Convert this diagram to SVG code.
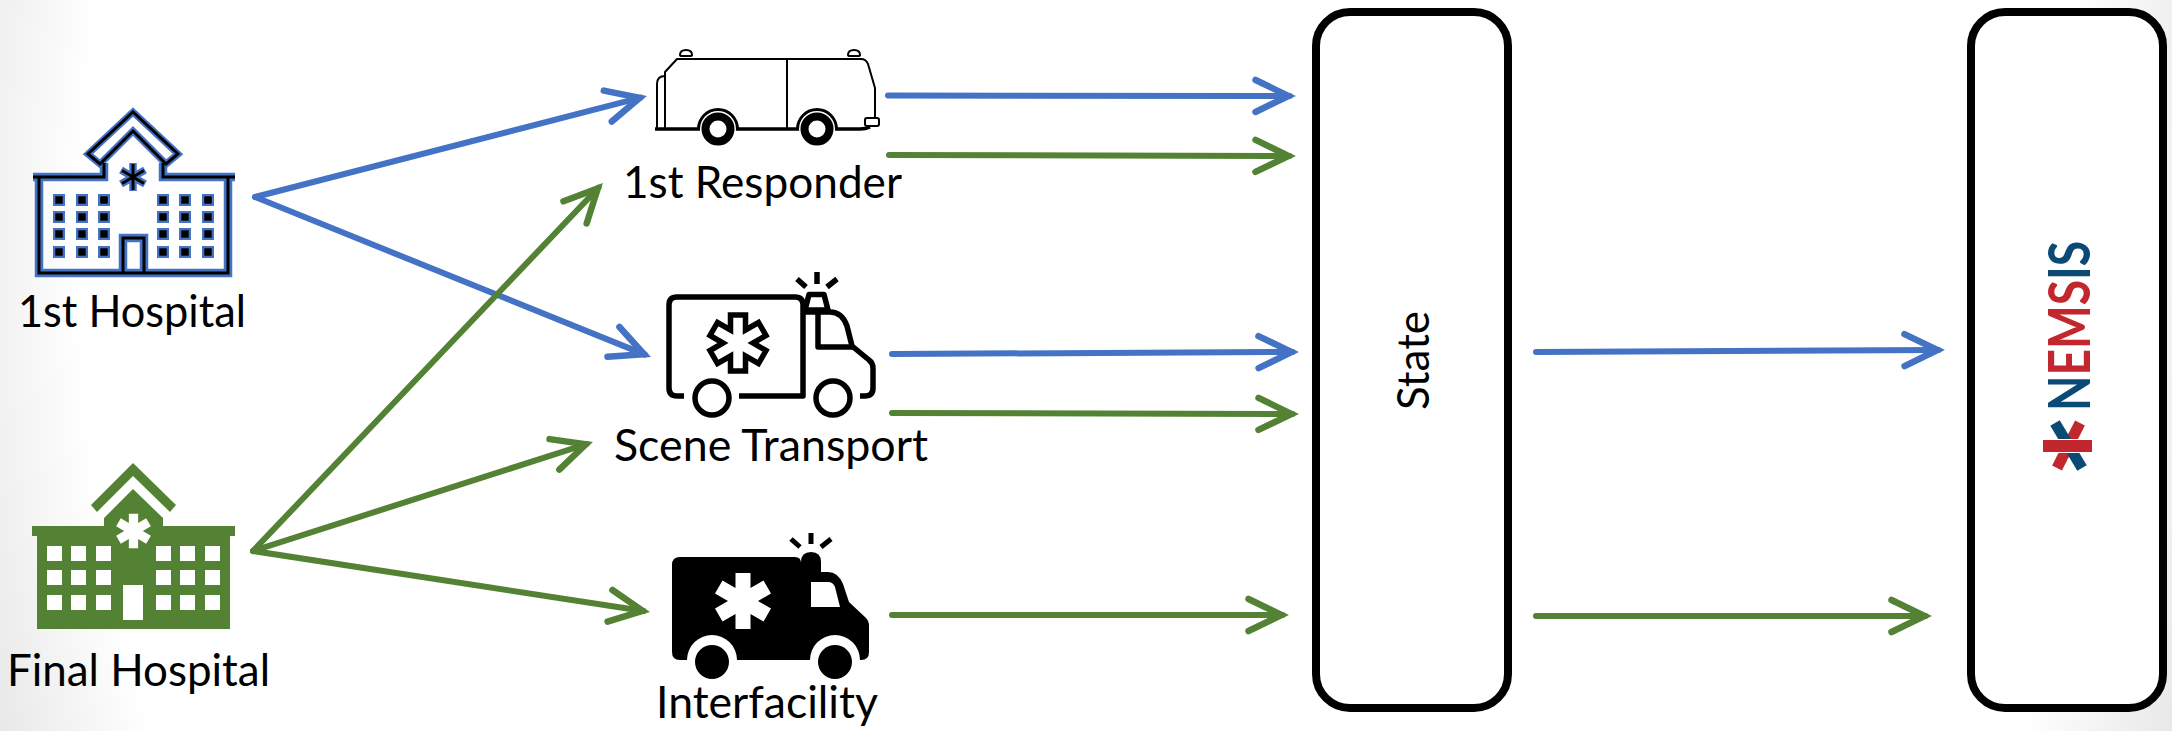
<svg xmlns="http://www.w3.org/2000/svg" xmlns:xlink="http://www.w3.org/1999/xlink" width="2172" height="731" viewBox="0 0 2172 731">
<style>
.lbl{font-family:Lato,"Open Sans","Liberation Sans",sans-serif;font-size:44px;fill:#000}
.box{fill:#fff;stroke:#000;stroke-width:8}
.conn{fill:none;stroke-width:6;stroke-linecap:round}
.b{stroke:#4472C4}.g{stroke:#548235}
.hb{stroke:#4472C4;fill:none;stroke-width:8.500;stroke-linejoin:miter}
.hk{stroke:#000;fill:none;stroke-width:3;stroke-linejoin:miter}
.thin{fill:none;stroke:#000;stroke-width:2;stroke-linejoin:round}
.bold{fill:none;stroke:#000;stroke-width:5.500;stroke-linejoin:round;stroke-linecap:butt}
</style>
<defs>
<radialGradient id="bg" gradientUnits="userSpaceOnUse" cx="0" cy="0" r="1.2" gradientTransform="translate(1086 250) scale(1010 1300)">
<stop offset="0.83" stop-color="#fff"/><stop offset="1" stop-color="#dedede"/>
</radialGradient>
<marker id="ab" markerUnits="userSpaceOnUse" markerWidth="60" markerHeight="60" viewBox="-50 -30 60 60" refX="0" refY="0" orient="auto"><path d="M-34,-16 L-1,0 L-34,16" fill="none" stroke="#4472C4" stroke-width="6.500" stroke-linecap="round" stroke-linejoin="miter" stroke-miterlimit="6"/></marker>
<marker id="ag" markerUnits="userSpaceOnUse" markerWidth="60" markerHeight="60" viewBox="-50 -30 60 60" refX="0" refY="0" orient="auto"><path d="M-34,-16 L-1,0 L-34,16" fill="none" stroke="#548235" stroke-width="6.500" stroke-linecap="round" stroke-linejoin="miter" stroke-miterlimit="6"/></marker>
<path id="star" d="M-7.500-28H7.500V-13L20.500-20.500L28-7.500L15 0L28 7.500L20.500 20.500L7.500 13V28H-7.500V13L-20.500 20.500L-28 7.500L-15 0L-28-7.500L-20.500-20.500L-7.500-13Z"/>
<rect id="wb" x="-6" y="-6" width="12" height="12" fill="#4472C4"/>
<rect id="wk" x="-3.700" y="-3.700" width="7.400" height="7.400" fill="#000"/>
<rect id="wg" width="15" height="15" fill="#fff"/>
</defs>
<rect id="background" width="2172" height="731" fill="url(#bg)"/>

<g id="connectors">
<line class="conn b" x1="255" y1="197" x2="640.700" y2="97.600" marker-end="url(#ab)"/>
<line class="conn b" x1="255" y1="197" x2="645" y2="354.600" marker-end="url(#ab)"/>
<line class="conn g" x1="253" y1="551" x2="598.500" y2="187.700" marker-end="url(#ag)"/>
<line class="conn g" x1="253" y1="551" x2="586.800" y2="444" marker-end="url(#ag)"/>
<line class="conn g" x1="253" y1="551" x2="643.600" y2="611" marker-end="url(#ag)"/>
<line class="conn b" x1="888" y1="95.500" x2="1289.500" y2="96" marker-end="url(#ab)"/>
<line class="conn g" x1="889" y1="155" x2="1289.500" y2="156" marker-end="url(#ag)"/>
<line class="conn b" x1="892" y1="354" x2="1292.500" y2="352" marker-end="url(#ab)"/>
<line class="conn g" x1="892" y1="413" x2="1292.500" y2="414" marker-end="url(#ag)"/>
<line class="conn g" x1="892" y1="615" x2="1282.500" y2="615" marker-end="url(#ag)"/>
<line class="conn b" x1="1536" y1="352" x2="1938.500" y2="350" marker-end="url(#ab)"/>
<line class="conn g" x1="1536" y1="616" x2="1925.500" y2="616" marker-end="url(#ag)"/>
</g>

<g id="first-hospital">
<g class="hb">
<path d="M133 112L178 154L166 164L133 131L100 164L88 154Z" stroke-width="7"/>
<path d="M104 163V177H33M235 177H163V163M39 177V273H228V177M123 273V238H144V273"/>
<path d="M133 163V191M121 170L145 184M145 170L121 184" stroke-width="7.500"/>
</g>
<g class="hk">
<path d="M133 112L178 154L166 164L133 131L100 164L88 154Z"/>
<path d="M104 163V177H33M235 177H163V163M39 177V273H228V177M123 273V238H144V273"/>
<path d="M133 164V190M122 170.500L144 183.500M144 170.500L122 183.500"/>
</g>
<g>
<use xlink:href="#wb" x="59" y="200"/><use xlink:href="#wb" x="82" y="200"/><use xlink:href="#wb" x="104" y="200"/><use xlink:href="#wb" x="163" y="200"/><use xlink:href="#wb" x="185" y="200"/><use xlink:href="#wb" x="208" y="200"/>
<use xlink:href="#wb" x="59" y="217"/><use xlink:href="#wb" x="82" y="217"/><use xlink:href="#wb" x="104" y="217"/><use xlink:href="#wb" x="163" y="217"/><use xlink:href="#wb" x="185" y="217"/><use xlink:href="#wb" x="208" y="217"/>
<use xlink:href="#wb" x="59" y="234"/><use xlink:href="#wb" x="82" y="234"/><use xlink:href="#wb" x="104" y="234"/><use xlink:href="#wb" x="163" y="234"/><use xlink:href="#wb" x="185" y="234"/><use xlink:href="#wb" x="208" y="234"/>
<use xlink:href="#wb" x="59" y="252"/><use xlink:href="#wb" x="82" y="252"/><use xlink:href="#wb" x="104" y="252"/><use xlink:href="#wb" x="163" y="252"/><use xlink:href="#wb" x="185" y="252"/><use xlink:href="#wb" x="208" y="252"/>
<use xlink:href="#wk" x="59" y="200"/><use xlink:href="#wk" x="82" y="200"/><use xlink:href="#wk" x="104" y="200"/><use xlink:href="#wk" x="163" y="200"/><use xlink:href="#wk" x="185" y="200"/><use xlink:href="#wk" x="208" y="200"/>
<use xlink:href="#wk" x="59" y="217"/><use xlink:href="#wk" x="82" y="217"/><use xlink:href="#wk" x="104" y="217"/><use xlink:href="#wk" x="163" y="217"/><use xlink:href="#wk" x="185" y="217"/><use xlink:href="#wk" x="208" y="217"/>
<use xlink:href="#wk" x="59" y="234"/><use xlink:href="#wk" x="82" y="234"/><use xlink:href="#wk" x="104" y="234"/><use xlink:href="#wk" x="163" y="234"/><use xlink:href="#wk" x="185" y="234"/><use xlink:href="#wk" x="208" y="234"/>
<use xlink:href="#wk" x="59" y="252"/><use xlink:href="#wk" x="82" y="252"/><use xlink:href="#wk" x="104" y="252"/><use xlink:href="#wk" x="163" y="252"/><use xlink:href="#wk" x="185" y="252"/><use xlink:href="#wk" x="208" y="252"/>
</g>
<text class="lbl" x="18" y="327" textLength="228" lengthAdjust="spacingAndGlyphs">1st Hospital</text>
</g>

<g id="final-hospital">
<path fill="#548235" d="M133 463L176 505L170 512L133 476L97 512L91 505Z"/>
<path fill="#548235" d="M133 489L163 518V526H235V536H230V629H37V536H32V526H104V518Z"/>
<g>
<use xlink:href="#wg" x="47" y="546"/><use xlink:href="#wg" x="71" y="546"/><use xlink:href="#wg" x="96" y="546"/><use xlink:href="#wg" x="156" y="546"/><use xlink:href="#wg" x="180" y="546"/><use xlink:href="#wg" x="205" y="546"/>
<use xlink:href="#wg" x="47" y="570"/><use xlink:href="#wg" x="71" y="570"/><use xlink:href="#wg" x="96" y="570"/><use xlink:href="#wg" x="156" y="570"/><use xlink:href="#wg" x="180" y="570"/><use xlink:href="#wg" x="205" y="570"/>
<use xlink:href="#wg" x="47" y="595"/><use xlink:href="#wg" x="71" y="595"/><use xlink:href="#wg" x="96" y="595"/><use xlink:href="#wg" x="156" y="595"/><use xlink:href="#wg" x="180" y="595"/><use xlink:href="#wg" x="205" y="595"/>
</g>
<rect x="123" y="585" width="20" height="35" fill="#fff"/>
<use xlink:href="#star" transform="translate(133.500 531) scale(.62)" fill="#fff"/>
<text class="lbl" x="7" y="686" textLength="263" lengthAdjust="spacingAndGlyphs">Final Hospital</text>
</g>

<g id="first-responder">
<path class="thin" d="M665 129V72L677 59H787M787 59H861Q866 59 868 64L875 88V118M787 59V129M657 129V84Q657 76 665 76"/>
<path class="thin" d="M680 55Q680 50 686 50Q692 50 692 55Q692 56 690 56H682Q680 56 680 55ZM848 55Q848 50 854 50Q860 50 860 55Q860 56 858 56H850Q848 56 848 55Z" fill="#fff"/>
<rect class="thin" x="865" y="118" width="14" height="8" rx="2" fill="#fff"/>
<path fill="none" stroke="#000" stroke-width="3.500" d="M655 129H700M735 129H800M835 129H860Q866 129 870 127"/>
<path d="M697 129A21 21 0 0 1 739 129ZM796 129A21 21 0 0 1 838 129Z" fill="#000"/>
<circle cx="718" cy="129" r="18" fill="#fff"/><circle cx="817" cy="129" r="18" fill="#fff"/>
<circle cx="718" cy="129" r="12.500" fill="#fff" stroke="#000" stroke-width="8"/>
<circle cx="817" cy="129" r="12.500" fill="#fff" stroke="#000" stroke-width="8"/>
<text class="lbl" x="623" y="198" textLength="279" lengthAdjust="spacingAndGlyphs">1st Responder</text>
</g>

<g id="scene-transport">
<path class="bold" d="M684 396H677Q669 396 669 388V305Q669 297 677 297H795Q803 297 803 305V396H739"/>
<circle class="bold" cx="712" cy="398" r="17"/>
<circle class="bold" cx="833" cy="398" r="17"/>
<path class="bold" d="M805 312H830Q842 312 847 326L852 346L869 360Q873 363 873 368V388Q873 396 865 396H860"/>
<path class="bold" d="M818 313V347H853"/>
<path class="bold" d="M809 294.500H824L828 310H805Z"/>
<path class="bold" d="M817 272V284M797 279L806 287M837 279L827 287"/>
<use xlink:href="#star" transform="translate(738 343)" fill="none" stroke="#000" stroke-width="5.500"/>
<text class="lbl" x="614" y="461" textLength="314" lengthAdjust="spacingAndGlyphs">Scene Transport</text>
</g>

<g id="interfacility">
<path fill="#000" d="M680 557H795Q801 557 801 563V562Q801 552 811 552Q821 552 821 562V572H828Q838 572 843 584L849 602L866 618Q869 621 869 626V652Q869 660 861 660H860A25 25 0 0 0 810 660H737A25 25 0 0 0 687 660H680Q672 660 672 652V565Q672 557 680 557Z"/>
<circle cx="712" cy="662" r="17" fill="#000"/><circle cx="835" cy="662" r="17" fill="#000"/>
<path fill="#fff" d="M811 582H828Q833 582 835 587L840 607H811Z"/>
<use xlink:href="#star" transform="translate(743 601)" fill="#fff"/>
<path d="M811 533V544M791 539L800 547M831 539L821 547" fill="none" stroke="#000" stroke-width="5"/>
<text class="lbl" x="656" y="718" textLength="222" lengthAdjust="spacingAndGlyphs">Interfacility</text>
</g>

<g id="state">
<rect class="box" x="1316" y="12" width="192" height="696" rx="34"/>
<text class="lbl" transform="translate(1429 410) rotate(-90)" textLength="99" lengthAdjust="spacingAndGlyphs">State</text>
</g>

<g id="nemsis">
<rect class="box" x="1971" y="12" width="192" height="696" rx="34"/>
<path d="M2080 423L2057 468" stroke="#C1272D" stroke-width="11" fill="none"/>
<path d="M2055 423L2082 468" stroke="#0B4A75" stroke-width="11" fill="none"/>
<rect x="2042" y="439" width="51" height="14" fill="#fff"/>
<rect x="2043" y="440" width="49" height="12" fill="#C1272D"/>
<text transform="translate(2090 411) rotate(-90)" font-family="Lato,'Open Sans',sans-serif" font-size="58" font-weight="700" textLength="170" lengthAdjust="spacingAndGlyphs"><tspan fill="#0B4A75">N</tspan><tspan fill="#C1272D">EMS</tspan><tspan fill="#0B4A75">IS</tspan></text>
</g>
</svg>
